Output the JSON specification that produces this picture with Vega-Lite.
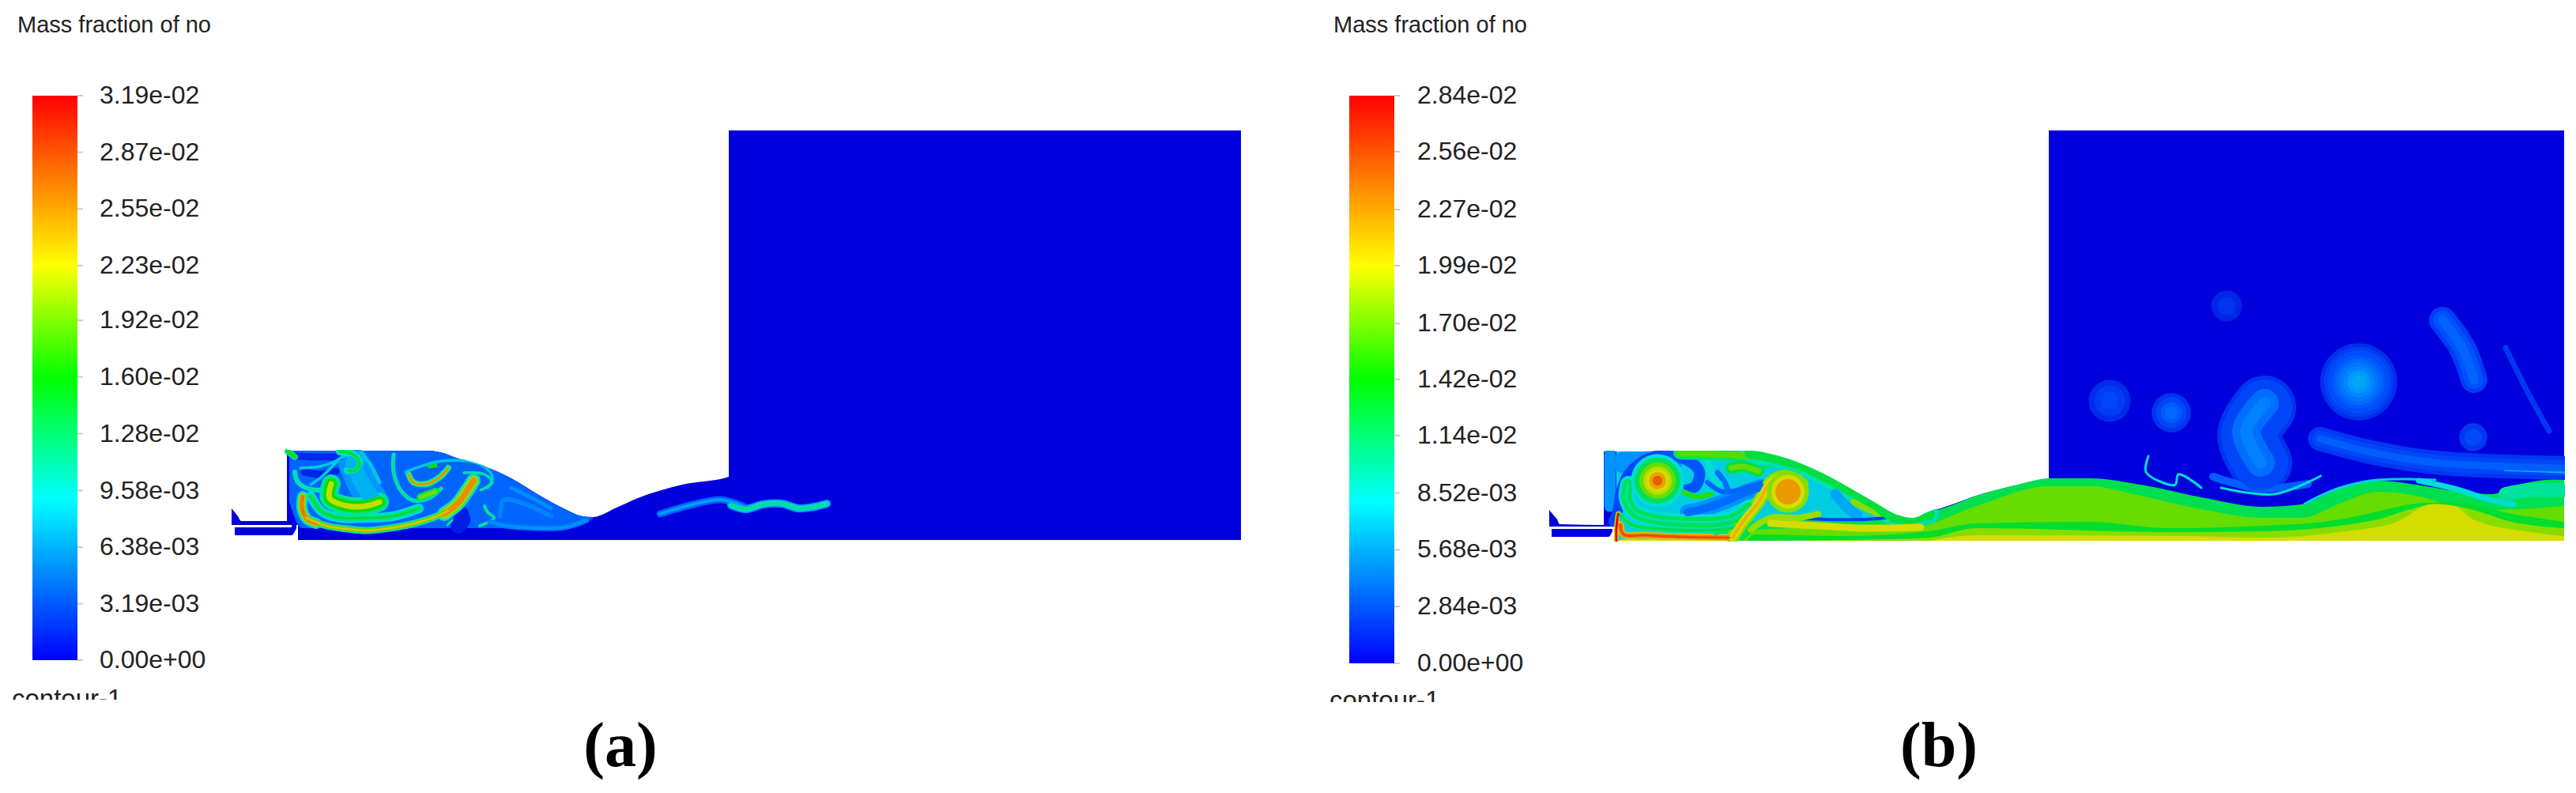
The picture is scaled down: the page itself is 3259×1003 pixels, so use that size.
{
"$schema":"https://vega.github.io/schema/vega-lite/v6.json",
"padding":0,"spacing":0,"bounds":"flush","background":"white",
"config":{"view":{"stroke":null},"line":{"strokeCap":"round","strokeJoin":"round"}},
"resolve":{"scale":{"color":"independent","x":"independent","y":"independent"}},
"datasets":{
"a_ticks":[{"v":0,"label":"0.00e+00"},{"v":0.00319,"label":"3.19e-03"},{"v":0.00638,"label":"6.38e-03"},{"v":0.00958,"label":"9.58e-03"},{"v":0.0128,"label":"1.28e-02"},{"v":0.016,"label":"1.60e-02"},{"v":0.0192,"label":"1.92e-02"},{"v":0.0223,"label":"2.23e-02"},{"v":0.0255,"label":"2.55e-02"},{"v":0.0287,"label":"2.87e-02"},{"v":0.0319,"label":"3.19e-02"}],
"b_ticks":[{"v":0,"label":"0.00e+00"},{"v":0.00284,"label":"2.84e-03"},{"v":0.00568,"label":"5.68e-03"},{"v":0.00852,"label":"8.52e-03"},{"v":0.0114,"label":"1.14e-02"},{"v":0.0142,"label":"1.42e-02"},{"v":0.017,"label":"1.70e-02"},{"v":0.0199,"label":"1.99e-02"},{"v":0.0227,"label":"2.27e-02"},{"v":0.0256,"label":"2.56e-02"},{"v":0.0284,"label":"2.84e-02"}],
"a_regions":[
{"s":"n1","x":293,"y":643,"b":664,"v":0},{"s":"n1","x":297,"y":648,"b":664,"v":0},{"s":"n1","x":301,"y":653,"b":664,"v":0},{"s":"n1","x":305,"y":659,"b":664,"v":0},{"s":"n1","x":365,"y":659,"b":664,"v":0},
{"s":"n2","x":297,"y":667,"b":677,"v":0},{"s":"n2","x":369,"y":667,"b":677,"v":0},{"s":"n2","x":369,"y":664,"b":677,"v":0},{"s":"n2","x":372,"y":664,"b":674,"v":0},{"s":"n2","x":375,"y":664,"b":668,"v":0},
{"s":"d","x":363,"y":570,"b":664,"v":0},{"s":"d","x":377,"y":570,"b":664,"v":0},{"s":"d","x":377,"y":570,"b":683,"v":0},{"s":"d","x":540,"y":570,"b":683,"v":0},{"s":"d","x":557,"y":572,"b":683,"v":0},{"s":"d","x":580,"y":580,"b":683,"v":0},{"s":"d","x":613,"y":590,"b":683,"v":0},{"s":"d","x":647,"y":605,"b":683,"v":0},{"s":"d","x":680,"y":625,"b":683,"v":0},{"s":"d","x":713,"y":643,"b":683,"v":0},{"s":"d","x":737,"y":653,"b":683,"v":0},{"s":"d","x":750,"y":654,"b":683,"v":0},{"s":"d","x":780,"y":642,"b":683,"v":0},{"s":"d","x":807,"y":630,"b":683,"v":0},{"s":"d","x":863,"y":613,"b":683,"v":0},{"s":"d","x":922,"y":603,"b":683,"v":0},{"s":"d","x":922,"y":165,"b":683,"v":0},{"s":"d","x":1570,"y":165,"b":683,"v":0},
{"s":"w","x":366,"y":570,"b":635,"v":0.0025},{"s":"w","x":382,"y":570,"b":668,"v":0.0025},{"s":"w","x":540,"y":570,"b":668,"v":0.0025},{"s":"w","x":557,"y":572,"b":668,"v":0.0025},{"s":"w","x":580,"y":580,"b":668,"v":0.0025},{"s":"w","x":613,"y":590,"b":668,"v":0.0025},{"s":"w","x":647,"y":605,"b":668,"v":0.0025},{"s":"w","x":680,"y":625,"b":668,"v":0.0025},{"s":"w","x":713,"y":643,"b":666,"v":0.0025},{"s":"w","x":737,"y":653,"b":662,"v":0.0025},{"s":"w","x":750,"y":654,"b":656,"v":0.0025}
],
"a_levels":[
{"s":"A0","v1":0.005,"w1":38,"v2":0.0065,"w2":20,"v3":0,"w3":0},{"s":"AD1","v1":0.0005,"w1":9,"v2":0,"w2":0,"v3":0,"w3":0},{"s":"AD2","v1":0.0004,"w1":9,"v2":0,"w2":0,"v3":0,"w3":0},{"s":"AD3","v1":0.0003,"w1":20,"v2":0,"w2":0,"v3":0,"w3":0},
{"s":"A3","v1":0.009,"w1":12,"v2":0.013,"w2":7,"v3":0.0155,"w3":3},{"s":"A1","v1":0.0105,"w1":9,"v2":0.017,"w2":6,"v3":0.024,"w3":2.5},{"s":"A1L","v1":0.0105,"w1":14,"v2":0.019,"w2":9,"v3":0.028,"w3":5},{"s":"A1R","v1":0.0105,"w1":18,"v2":0.019,"w2":13,"v3":0.027,"w3":7},{"s":"A2","v1":0.0125,"w1":24,"v2":0.016,"w2":15,"v3":0.021,"w3":7},{"s":"A4","v1":0.009,"w1":6,"v2":0.0125,"w2":3,"v3":0,"w3":0},{"s":"A5","v1":0.008,"w1":3.5,"v2":0,"w2":0,"v3":0,"w3":0},{"s":"A6","v1":0.008,"w1":3.5,"v2":0,"w2":0,"v3":0,"w3":0},{"s":"A7","v1":0.009,"w1":10,"v2":0.0125,"w2":6,"v3":0.016,"w3":2.5},{"s":"A8","v1":0.0075,"w1":5,"v2":0,"w2":0,"v3":0,"w3":0},{"s":"A9","v1":0.009,"w1":5,"v2":0.013,"w2":2.5,"v3":0,"w3":0},{"s":"A10","v1":0.015,"w1":10,"v2":0.018,"w2":5,"v3":0,"w3":0},{"s":"A11","v1":0.012,"w1":8,"v2":0.02,"w2":4,"v3":0.028,"w3":2},{"s":"A12","v1":0.016,"w1":5,"v2":0,"w2":0,"v3":0,"w3":0},{"s":"A13","v1":0.0075,"w1":3.5,"v2":0,"w2":0,"v3":0,"w3":0},{"s":"A14","v1":0.012,"w1":3.5,"v2":0,"w2":0,"v3":0,"w3":0},{"s":"A15","v1":0.012,"w1":4,"v2":0,"w2":0,"v3":0,"w3":0},{"s":"A15b","v1":0.012,"w1":3,"v2":0,"w2":0,"v3":0,"w3":0},{"s":"A16","v1":0.004,"w1":6,"v2":0,"w2":0,"v3":0,"w3":0},{"s":"A17","v1":0.0045,"w1":5,"v2":0,"w2":0,"v3":0,"w3":0},{"s":"A18","v1":0.0035,"w1":7,"v2":0.0048,"w2":3,"v3":0,"w3":0},{"s":"A19","v1":0.0125,"w1":8,"v2":0.016,"w2":4,"v3":0,"w3":0},{"s":"A20","v1":0.002,"w1":9,"v2":0.004,"w2":5,"v3":0.006,"w3":2},{"s":"A21","v1":0.0055,"w1":10,"v2":0.0095,"w2":6,"v3":0.0135,"w3":3}
],
"a_filaments":[
{"s":"A0","x":447,"y":585},{"s":"A0","x":455,"y":605},{"s":"A0","x":470,"y":630},
{"s":"AD1","x":375,"y":577},{"s":"AD1","x":400,"y":578},{"s":"AD1","x":430,"y":578},
{"s":"AD2","x":385,"y":597},{"s":"AD2","x":405,"y":600},{"s":"AD2","x":425,"y":596},
{"s":"AD3","x":583,"y":650},{"s":"AD3","x":585,"y":658},{"s":"AD3","x":580,"y":665},
{"s":"A3","x":393,"y":627},{"s":"A3","x":407,"y":647},{"s":"A3","x":430,"y":655},{"s":"A3","x":463,"y":655},{"s":"A3","x":497,"y":653},{"s":"A3","x":530,"y":643},
{"s":"A1L","x":383,"y":628},{"s":"A1L","x":382,"y":642},{"s":"A1L","x":388,"y":656},{"s":"A1L","x":400,"y":662},
{"s":"A1R","x":562,"y":650},{"s":"A1R","x":578,"y":638},{"s":"A1R","x":590,"y":622},{"s":"A1R","x":599,"y":608},
{"s":"A1","x":387,"y":655},{"s":"A1","x":413,"y":665},{"s":"A1","x":440,"y":669},{"s":"A1","x":463,"y":671},{"s":"A1","x":493,"y":668},{"s":"A1","x":520,"y":663},{"s":"A1","x":547,"y":655},{"s":"A1","x":567,"y":646},
{"s":"A2","x":419,"y":612},{"s":"A2","x":417,"y":630},{"s":"A2","x":440,"y":640},{"s":"A2","x":463,"y":640},{"s":"A2","x":480,"y":635},
{"s":"A4","x":373,"y":597},{"s":"A4","x":377,"y":610},{"s":"A4","x":390,"y":618},{"s":"A4","x":405,"y":620},
{"s":"A5","x":380,"y":592},{"s":"A5","x":405,"y":590},{"s":"A5","x":425,"y":583},{"s":"A5","x":437,"y":575},
{"s":"A6","x":427,"y":583},{"s":"A6","x":407,"y":603},{"s":"A6","x":393,"y":613},
{"s":"A7","x":430,"y":571},{"s":"A7","x":447,"y":575},{"s":"A7","x":455,"y":585},{"s":"A7","x":450,"y":595},{"s":"A7","x":440,"y":595},
{"s":"A8","x":457,"y":572},{"s":"A8","x":470,"y":590},{"s":"A8","x":480,"y":610},
{"s":"A9","x":498,"y":575},{"s":"A9","x":498,"y":597},{"s":"A9","x":507,"y":620},{"s":"A9","x":523,"y":633},{"s":"A9","x":543,"y":630},{"s":"A9","x":558,"y":618},
{"s":"A10","x":532,"y":629},{"s":"A10","x":540,"y":626},{"s":"A10","x":551,"y":622},
{"s":"A11","x":517,"y":600},{"s":"A11","x":523,"y":610},{"s":"A11","x":540,"y":612},{"s":"A11","x":557,"y":603},{"s":"A11","x":567,"y":592},
{"s":"A12","x":543,"y":590},{"s":"A12","x":551,"y":589},
{"s":"A13","x":513,"y":597},{"s":"A13","x":560,"y":583},{"s":"A13","x":607,"y":587},{"s":"A13","x":623,"y":603},{"s":"A13","x":617,"y":617},
{"s":"A14","x":587,"y":598},{"s":"A14","x":613,"y":600},{"s":"A14","x":623,"y":610},{"s":"A14","x":608,"y":620},
{"s":"A15","x":613,"y":640},{"s":"A15","x":617,"y":648},{"s":"A15","x":625,"y":655},{"s":"A15","x":607,"y":665},
{"s":"A15b","x":566,"y":664},{"s":"A15b","x":572,"y":658},
{"s":"A16","x":633,"y":653},{"s":"A16","x":637,"y":633},{"s":"A16","x":663,"y":637},{"s":"A16","x":697,"y":653},
{"s":"A17","x":647,"y":617},{"s":"A17","x":673,"y":630},{"s":"A17","x":697,"y":643},
{"s":"A18","x":620,"y":660},{"s":"A18","x":640,"y":665},{"s":"A18","x":713,"y":667},{"s":"A18","x":742,"y":658},
{"s":"A19","x":364,"y":571},{"s":"A19","x":368,"y":574},{"s":"A19","x":373,"y":578},
{"s":"A20","x":835,"y":650},{"s":"A20","x":877,"y":638},{"s":"A20","x":912,"y":632},{"s":"A20","x":940,"y":640},
{"s":"A21","x":925,"y":639},{"s":"A21","x":943,"y":644},{"s":"A21","x":965,"y":638},{"s":"A21","x":989,"y":637},{"s":"A21","x":1010,"y":643},{"s":"A21","x":1030,"y":641},{"s":"A21","x":1046,"y":637}
],
"a_masks":[
{"s":"roof","x":363,"y":569,"b":160},{"s":"roof","x":540,"y":569,"b":160},{"s":"roof","x":557,"y":571,"b":160},{"s":"roof","x":580,"y":579,"b":160},{"s":"roof","x":613,"y":589,"b":160},{"s":"roof","x":647,"y":604,"b":160},{"s":"roof","x":680,"y":624,"b":160},{"s":"roof","x":713,"y":642,"b":160},{"s":"roof","x":737,"y":652,"b":160},{"s":"roof","x":750,"y":653,"b":160},{"s":"roof","x":780,"y":641,"b":160},{"s":"roof","x":807,"y":629,"b":160},{"s":"roof","x":863,"y":612,"b":160},{"s":"roof","x":922,"y":602,"b":160},
{"s":"floor","x":377,"y":684,"b":700},{"s":"floor","x":1570,"y":684,"b":700}
],
"b_regions":[
{"s":"n1","x":1960,"y":645,"b":666,"v":0},{"s":"n1","x":1965,"y":651,"b":666,"v":0},{"s":"n1","x":1970,"y":657,"b":666,"v":0},{"s":"n1","x":1973,"y":663,"b":666,"v":0},{"s":"n1","x":2035,"y":664,"b":666,"v":0},
{"s":"n2","x":1963,"y":669,"b":679,"v":0},{"s":"n2","x":2035,"y":669,"b":679,"v":0},{"s":"n2","x":2040,"y":669,"b":672,"v":0},
{"s":"d","x":2029,"y":571,"b":666,"v":0},{"s":"d","x":2043,"y":571,"b":666,"v":0},{"s":"d","x":2043,"y":571,"b":684,"v":0},{"s":"d","x":2217,"y":571,"b":684,"v":0},{"s":"d","x":2240,"y":575,"b":684,"v":0},{"s":"d","x":2273,"y":585,"b":684,"v":0},{"s":"d","x":2307,"y":600,"b":684,"v":0},{"s":"d","x":2340,"y":618,"b":684,"v":0},{"s":"d","x":2373,"y":637,"b":684,"v":0},{"s":"d","x":2400,"y":652,"b":684,"v":0},{"s":"d","x":2420,"y":656,"b":684,"v":0},{"s":"d","x":2440,"y":648,"b":684,"v":0},{"s":"d","x":2470,"y":638,"b":684,"v":0},{"s":"d","x":2500,"y":627,"b":684,"v":0},{"s":"d","x":2545,"y":615,"b":684,"v":0},{"s":"d","x":2592,"y":605,"b":684,"v":0},{"s":"d","x":2592,"y":165,"b":684,"v":0},{"s":"d","x":3244,"y":165,"b":684,"v":0},
{"s":"c","x":2045,"y":571,"b":684,"v":0.0072},{"s":"c","x":2217,"y":571,"b":684,"v":0.0072},{"s":"c","x":2240,"y":575,"b":684,"v":0.0072},{"s":"c","x":2273,"y":585,"b":684,"v":0.0072},{"s":"c","x":2307,"y":600,"b":684,"v":0.0072},{"s":"c","x":2340,"y":618,"b":684,"v":0.0072},{"s":"c","x":2373,"y":637,"b":684,"v":0.0072},{"s":"c","x":2400,"y":652,"b":684,"v":0.0072},{"s":"c","x":2420,"y":656,"b":684,"v":0.0072},{"s":"c","x":2440,"y":648,"b":684,"v":0.0072},
{"s":"SA","x":2190,"y":684,"b":684,"v":0.0132},{"s":"SA","x":2210,"y":660,"b":684,"v":0.0132},{"s":"SA","x":2280,"y":655,"b":684,"v":0.0132},{"s":"SA","x":2340,"y":658,"b":684,"v":0.0132},{"s":"SA","x":2400,"y":656,"b":684,"v":0.0132},{"s":"SA","x":2420,"y":657,"b":684,"v":0.0132},{"s":"SA","x":2440,"y":649,"b":684,"v":0.0132},{"s":"SA","x":2470,"y":639,"b":684,"v":0.0132},{"s":"SA","x":2500,"y":627,"b":684,"v":0.0132},{"s":"SA","x":2545,"y":615,"b":684,"v":0.0132},{"s":"SA","x":2592,"y":605,"b":684,"v":0.0132},{"s":"SA","x":2645,"y":605,"b":684,"v":0.0132},{"s":"SA","x":2708,"y":613,"b":684,"v":0.0132},{"s":"SA","x":2790,"y":630,"b":684,"v":0.0132},{"s":"SA","x":2863,"y":641,"b":684,"v":0.0132},{"s":"SA","x":2911,"y":638,"b":684,"v":0.0132},{"s":"SA","x":2960,"y":618,"b":684,"v":0.0132},{"s":"SA","x":3008,"y":608,"b":684,"v":0.0132},{"s":"SA","x":3057,"y":613,"b":684,"v":0.0132},{"s":"SA","x":3105,"y":621,"b":684,"v":0.0132},{"s":"SA","x":3153,"y":625,"b":684,"v":0.0132},{"s":"SA","x":3187,"y":613,"b":684,"v":0.0132},{"s":"SA","x":3244,"y":605,"b":684,"v":0.0132},
{"s":"SB","x":2205,"y":684,"b":684,"v":0.0155},{"s":"SB","x":2225,"y":670,"b":684,"v":0.0155},{"s":"SB","x":2280,"y":668,"b":684,"v":0.0155},{"s":"SB","x":2340,"y":672,"b":684,"v":0.0155},{"s":"SB","x":2420,"y":668,"b":684,"v":0.0155},{"s":"SB","x":2500,"y":640,"b":684,"v":0.0155},{"s":"SB","x":2592,"y":615,"b":684,"v":0.0155},{"s":"SB","x":2645,"y":615,"b":684,"v":0.0155},{"s":"SB","x":2708,"y":627,"b":684,"v":0.0155},{"s":"SB","x":2790,"y":645,"b":684,"v":0.0155},{"s":"SB","x":2863,"y":655,"b":684,"v":0.0155},{"s":"SB","x":2911,"y":655,"b":684,"v":0.0155},{"s":"SB","x":2960,"y":637,"b":684,"v":0.0155},{"s":"SB","x":3008,"y":622,"b":684,"v":0.0155},{"s":"SB","x":3057,"y":627,"b":684,"v":0.0155},{"s":"SB","x":3105,"y":640,"b":684,"v":0.0155},{"s":"SB","x":3153,"y":645,"b":684,"v":0.0155},{"s":"SB","x":3244,"y":640,"b":684,"v":0.0155},
{"s":"SC","x":2210,"y":684,"b":684,"v":0.0138},{"s":"SC","x":2220,"y":676,"b":684,"v":0.0138},{"s":"SC","x":2330,"y":678,"b":684,"v":0.0138},{"s":"SC","x":2440,"y":672,"b":684,"v":0.0138},{"s":"SC","x":2500,"y":662,"b":684,"v":0.0138},{"s":"SC","x":2645,"y":660,"b":684,"v":0.0138},{"s":"SC","x":2742,"y":668,"b":684,"v":0.0138},{"s":"SC","x":2863,"y":665,"b":684,"v":0.0138},{"s":"SC","x":2960,"y":657,"b":684,"v":0.0138},{"s":"SC","x":3008,"y":647,"b":684,"v":0.0138},{"s":"SC","x":3057,"y":637,"b":684,"v":0.0138},{"s":"SC","x":3105,"y":635,"b":684,"v":0.0138},{"s":"SC","x":3178,"y":650,"b":684,"v":0.0138},{"s":"SC","x":3244,"y":660,"b":684,"v":0.0138},
{"s":"SD","x":2230,"y":684,"b":684,"v":0.0165},{"s":"SD","x":2330,"y":683,"b":684,"v":0.0165},{"s":"SD","x":2440,"y":680,"b":684,"v":0.0165},{"s":"SD","x":2500,"y":668,"b":684,"v":0.0165},{"s":"SD","x":2742,"y":673,"b":684,"v":0.0165},{"s":"SD","x":2863,"y":672,"b":684,"v":0.0165},{"s":"SD","x":2960,"y":665,"b":684,"v":0.0165},{"s":"SD","x":3008,"y":657,"b":684,"v":0.0165},{"s":"SD","x":3057,"y":642,"b":684,"v":0.0165},{"s":"SD","x":3081,"y":637,"b":684,"v":0.0165},{"s":"SD","x":3129,"y":645,"b":684,"v":0.0165},{"s":"SD","x":3178,"y":660,"b":684,"v":0.0165},{"s":"SD","x":3244,"y":668,"b":684,"v":0.0165},
{"s":"SE","x":2440,"y":684,"b":684,"v":0.0195},{"s":"SE","x":2500,"y":677,"b":684,"v":0.0195},{"s":"SE","x":2766,"y":678,"b":684,"v":0.0195},{"s":"SE","x":2863,"y":680,"b":684,"v":0.0195},{"s":"SE","x":2960,"y":673,"b":684,"v":0.0195},{"s":"SE","x":3032,"y":660,"b":684,"v":0.0195},{"s":"SE","x":3076,"y":638,"b":684,"v":0.0195},{"s":"SE","x":3105,"y":640,"b":684,"v":0.0195},{"s":"SE","x":3129,"y":657,"b":684,"v":0.0195},{"s":"SE","x":3202,"y":673,"b":684,"v":0.0195},{"s":"SE","x":3244,"y":678,"b":684,"v":0.0195}
],
"b_levels":[
{"s":"B1","v1":0.0042,"w1":28,"v2":0,"w2":0,"v3":0,"w3":0},{"s":"B2","v1":0.0042,"w1":15,"v2":0,"w2":0,"v3":0,"w3":0},{"s":"B3","v1":0.0012,"w1":13,"v2":0,"w2":0,"v3":0,"w3":0},{"s":"B4","v1":0.0016,"w1":14,"v2":0,"w2":0,"v3":0,"w3":0},{"s":"B5","v1":0.0042,"w1":20,"v2":0.0025,"w2":10,"v3":0,"w3":0},{"s":"B6","v1":0.0022,"w1":6,"v2":0,"w2":0,"v3":0,"w3":0},{"s":"B7","v1":0.0025,"w1":7,"v2":0,"w2":0,"v3":0,"w3":0},{"s":"B8","v1":0.0085,"w1":8,"v2":0,"w2":0,"v3":0,"w3":0},{"s":"B9","v1":0.0125,"w1":16,"v2":0.015,"w2":8,"v3":0,"w3":0},{"s":"B10","v1":0.0135,"w1":14,"v2":0.0155,"w2":7,"v3":0,"w3":0},{"s":"B11","v1":0.0125,"w1":4,"v2":0,"w2":0,"v3":0,"w3":0},{"s":"B12","v1":0.0105,"w1":26,"v2":0.0135,"w2":16,"v3":0,"w3":0},{"s":"B13","v1":0.0165,"w1":8,"v2":0,"w2":0,"v3":0,"w3":0},{"s":"B14","v1":0.0052,"w1":13,"v2":0,"w2":0,"v3":0,"w3":0},{"s":"B15","v1":0.001,"w1":4,"v2":0,"w2":0,"v3":0,"w3":0},{"s":"B16","v1":0.0085,"w1":20,"v2":0.013,"w2":13,"v3":0.0105,"w3":3},{"s":"B17","v1":0.0105,"w1":7,"v2":0.0135,"w2":3.5,"v3":0,"w3":0},{"s":"B18","v1":0.0125,"w1":8,"v2":0.0145,"w2":4,"v3":0,"w3":0},{"s":"B20","v1":0.021,"w1":9,"v2":0.0245,"w2":6,"v3":0.027,"w3":2.5},{"s":"B21","v1":0.02,"w1":6,"v2":0.0284,"w2":3,"v3":0,"w3":0},{"s":"B22","v1":0.019,"w1":2,"v2":0,"w2":0,"v3":0,"w3":0},{"s":"B23","v1":0.0125,"w1":4,"v2":0,"w2":0,"v3":0,"w3":0},{"s":"B24","v1":0.0165,"w1":16,"v2":0.0195,"w2":10,"v3":0.022,"w3":4},{"s":"B25","v1":0.017,"w1":8,"v2":0,"w2":0,"v3":0,"w3":0},{"s":"B26","v1":0.0195,"w1":9,"v2":0,"w2":0,"v3":0,"w3":0},
{"s":"W0","v1":0.0007,"w1":80,"v2":0.0012,"w2":70,"v3":0,"w3":0},{"s":"W1","v1":0.0018,"w1":58,"v2":0.0026,"w2":36,"v3":0.0034,"w3":16},{"s":"W2a","v1":0.0009,"w1":34,"v2":0.0015,"w2":24,"v3":0.0022,"w3":12},{"s":"W3","v1":0.0008,"w1":7,"v2":0,"w2":0,"v3":0,"w3":0},{"s":"W4","v1":0.0008,"w1":30,"v2":0.0012,"w2":20,"v3":0.002,"w3":9},{"s":"W5","v1":0.0045,"w1":12,"v2":0.0058,"w2":6,"v3":0,"w3":0},{"s":"W6","v1":0.002,"w1":10,"v2":0,"w2":0,"v3":0,"w3":0},{"s":"W7","v1":0.0085,"w1":3,"v2":0,"w2":0,"v3":0,"w3":0},{"s":"W8","v1":0.0075,"w1":3,"v2":0,"w2":0,"v3":0,"w3":0},{"s":"W9","v1":0.0085,"w1":3,"v2":0,"w2":0,"v3":0,"w3":0},{"s":"W10","v1":0.0085,"w1":7,"v2":0,"w2":0,"v3":0,"w3":0},{"s":"W11","v1":0.0112,"w1":18,"v2":0,"w2":0,"v3":0,"w3":0}
],
"b_filaments":[
{"s":"B1","x":2055,"y":585},{"s":"B1","x":2080,"y":585},{"s":"B1","x":2115,"y":583},
{"s":"B2","x":2037,"y":575},{"s":"B2","x":2037,"y":615},{"s":"B2","x":2037,"y":640},
{"s":"B3","x":2115,"y":574},{"s":"B3","x":2085,"y":580},{"s":"B3","x":2060,"y":600},{"s":"B3","x":2050,"y":625},{"s":"B3","x":2047,"y":645},{"s":"B3","x":2041,"y":660},
{"s":"B4","x":2108,"y":576},{"s":"B4","x":2135,"y":582},{"s":"B4","x":2150,"y":597},{"s":"B4","x":2145,"y":615},{"s":"B4","x":2132,"y":620},
{"s":"B5","x":2135,"y":648},{"s":"B5","x":2150,"y":645},{"s":"B5","x":2180,"y":635},{"s":"B5","x":2210,"y":622},{"s":"B5","x":2228,"y":616},
{"s":"B6","x":2160,"y":610},{"s":"B6","x":2180,"y":622},{"s":"B6","x":2215,"y":615},{"s":"B6","x":2250,"y":605},
{"s":"B7","x":2173,"y":598},{"s":"B7","x":2182,"y":610},{"s":"B7","x":2186,"y":620},
{"s":"B8","x":2160,"y":578},{"s":"B8","x":2165,"y":600},{"s":"B8","x":2175,"y":612},
{"s":"B9","x":2125,"y":573},{"s":"B9","x":2160,"y":574},{"s":"B9","x":2200,"y":576},{"s":"B9","x":2225,"y":578},
{"s":"B10","x":2190,"y":592},{"s":"B10","x":2205,"y":590},{"s":"B10","x":2225,"y":596},
{"s":"B11","x":2200,"y":598},{"s":"B11","x":2240,"y":590},{"s":"B11","x":2280,"y":590},{"s":"B11","x":2310,"y":610},{"s":"B11","x":2330,"y":625},
{"s":"B12","x":2215,"y":572},{"s":"B12","x":2273,"y":585},{"s":"B12","x":2307,"y":600},{"s":"B12","x":2340,"y":618},{"s":"B12","x":2373,"y":637},{"s":"B12","x":2400,"y":654},{"s":"B12","x":2440,"y":650},
{"s":"B13","x":2345,"y":635},{"s":"B13","x":2365,"y":645},{"s":"B13","x":2390,"y":655},
{"s":"B14","x":2322,"y":625},{"s":"B14","x":2335,"y":640},{"s":"B14","x":2350,"y":652},
{"s":"B15","x":2265,"y":655},{"s":"B15","x":2310,"y":657},{"s":"B15","x":2360,"y":657},{"s":"B15","x":2395,"y":654},
{"s":"B16","x":2060,"y":612},{"s":"B16","x":2058,"y":630},{"s":"B16","x":2068,"y":648},{"s":"B16","x":2095,"y":657},{"s":"B16","x":2130,"y":660},{"s":"B16","x":2170,"y":660},{"s":"B16","x":2195,"y":655},{"s":"B16","x":2212,"y":642},
{"s":"B17","x":2048,"y":650},{"s":"B17","x":2065,"y":664},{"s":"B17","x":2100,"y":669},{"s":"B17","x":2150,"y":671},{"s":"B17","x":2190,"y":668},{"s":"B17","x":2205,"y":660},
{"s":"B18","x":2125,"y":620},{"s":"B18","x":2145,"y":628},{"s":"B18","x":2165,"y":625},
{"s":"B20","x":2050,"y":664},{"s":"B20","x":2054,"y":676},{"s":"B20","x":2080,"y":677},{"s":"B20","x":2130,"y":679},{"s":"B20","x":2188,"y":680},
{"s":"B21","x":2047,"y":650},{"s":"B21","x":2045,"y":668},{"s":"B21","x":2045,"y":684},
{"s":"B22","x":2050,"y":683},{"s":"B22","x":2190,"y":683},
{"s":"B23","x":2170,"y":676},{"s":"B23","x":2182,"y":672},{"s":"B23","x":2192,"y":680},
{"s":"B24","x":2192,"y":680},{"s":"B24","x":2205,"y":660},{"s":"B24","x":2225,"y":635},{"s":"B24","x":2240,"y":610},{"s":"B24","x":2258,"y":602},{"s":"B24","x":2280,"y":612},
{"s":"B25","x":2215,"y":670},{"s":"B25","x":2240,"y":655},{"s":"B25","x":2275,"y":655},{"s":"B25","x":2300,"y":650},
{"s":"B26","x":2240,"y":662},{"s":"B26","x":2300,"y":665},{"s":"B26","x":2360,"y":668},{"s":"B26","x":2430,"y":667},
{"s":"W0","x":2865,"y":515},{"s":"W0","x":2845,"y":550},{"s":"W0","x":2860,"y":585},
{"s":"W1","x":2865,"y":510},{"s":"W1","x":2842,"y":545},{"s":"W1","x":2860,"y":585},
{"s":"W2a","x":3090,"y":405},{"s":"W2a","x":3115,"y":440},{"s":"W2a","x":3130,"y":480},
{"s":"W3","x":3170,"y":440},{"s":"W3","x":3200,"y":500},{"s":"W3","x":3225,"y":545},
{"s":"W4","x":2935,"y":555},{"s":"W4","x":3000,"y":572},{"s":"W4","x":3080,"y":585},{"s":"W4","x":3244,"y":592},
{"s":"W5","x":3170,"y":593},{"s":"W5","x":3200,"y":594},{"s":"W5","x":3250,"y":596},
{"s":"W6","x":2800,"y":603},{"s":"W6","x":2860,"y":618},{"s":"W6","x":2920,"y":612},
{"s":"W7","x":2810,"y":617},{"s":"W7","x":2877,"y":625},{"s":"W7","x":2936,"y":602},
{"s":"W8","x":2916,"y":637},{"s":"W8","x":2960,"y":617},{"s":"W8","x":3008,"y":607},{"s":"W8","x":3081,"y":607},
{"s":"W9","x":2718,"y":577},{"s":"W9","x":2715,"y":597},{"s":"W9","x":2735,"y":610},{"s":"W9","x":2752,"y":613},{"s":"W9","x":2756,"y":600},{"s":"W9","x":2785,"y":617},
{"s":"W10","x":3060,"y":608},{"s":"W10","x":3105,"y":618},{"s":"W10","x":3150,"y":632},{"s":"W10","x":3180,"y":638},
{"s":"W11","x":3170,"y":625},{"s":"W11","x":3200,"y":620},{"s":"W11","x":3244,"y":620}
],
"b_cores":[
{"x":2097,"y":608,"d":4536,"v":0.0085},{"x":2097,"y":608,"d":3421,"v":0.013},{"x":2097,"y":608,"d":2124,"v":0.0155},{"x":2097,"y":608,"d":1300,"v":0.018},{"x":2097,"y":608,"d":908,"v":0.0195},{"x":2097,"y":608,"d":452,"v":0.023},{"x":2097,"y":608,"d":154,"v":0.0262},
{"x":2262,"y":622,"d":2827,"v":0.0165},{"x":2262,"y":622,"d":1810,"v":0.0195},{"x":2262,"y":622,"d":1018,"v":0.0235},
{"x":2984,"y":483,"d":9503,"v":0.0006},{"x":2984,"y":483,"d":7850,"v":0.001},{"x":2984,"y":483,"d":6360,"v":0.0014},{"x":2984,"y":483,"d":4536,"v":0.0018},{"x":2984,"y":483,"d":3421,"v":0.0024},{"x":2984,"y":483,"d":2463,"v":0.003},{"x":2984,"y":483,"d":1520,"v":0.0037},{"x":2984,"y":483,"d":804,"v":0.0045},{"x":2984,"y":483,"d":314,"v":0.0052},
{"x":2747,"y":522,"d":2463,"v":0.0007},{"x":2747,"y":522,"d":1520,"v":0.0012},{"x":2747,"y":522,"d":707,"v":0.0018},{"x":2747,"y":522,"d":254,"v":0.0024},
{"x":2669,"y":507,"d":2827,"v":0.0005},{"x":2669,"y":507,"d":1520,"v":0.0009},{"x":2669,"y":507,"d":531,"v":0.0012},
{"x":2817,"y":387,"d":1521,"v":0.0004},{"x":2817,"y":387,"d":531,"v":0.0007},
{"x":3129,"y":553,"d":1257,"v":0.0008},{"x":3129,"y":553,"d":452,"v":0.0013}
],
"b_masks":[
{"s":"roof","x":2029,"y":570,"b":160},{"s":"roof","x":2217,"y":570,"b":160},{"s":"roof","x":2240,"y":574,"b":160},{"s":"roof","x":2273,"y":584,"b":160},{"s":"roof","x":2307,"y":599,"b":160},{"s":"roof","x":2340,"y":617,"b":160},{"s":"roof","x":2373,"y":636,"b":160},{"s":"roof","x":2400,"y":651,"b":160},{"s":"roof","x":2420,"y":655,"b":160},{"s":"roof","x":2440,"y":647,"b":160},{"s":"roof","x":2470,"y":637,"b":160},{"s":"roof","x":2500,"y":626,"b":160},{"s":"roof","x":2545,"y":614,"b":160},{"s":"roof","x":2592,"y":604,"b":160},
{"s":"floor","x":2043,"y":685,"b":700},{"s":"floor","x":3259,"y":685,"b":700},
{"s":"right","x":3245,"y":160,"b":700},{"s":"right","x":3259,"y":160,"b":700}
]
},
"hconcat":[
{"width":1630,"height":1003,"resolve":{"scale":{"y":"independent"}},"layer":[
{"encoding":{"x":{"field":"x","type":"quantitative","axis":null,"scale":{"domain":[0,1630],"nice":false,"zero":false}},"y":{"field":"y","type":"quantitative","axis":null,"stack":null,"scale":{"domain":[1003,0],"nice":false,"zero":false}}},
"layer":[
{"data":{"name":"a_regions"},"mark":{"type":"area","opacity":1,"interpolate":"monotone"},"encoding":{"y2":{"field":"b"},"detail":{"field":"s"},"order":{"value":null},"color":{"field":"v","type":"quantitative","legend":null,"scale":{"domain":[0,0.00909,0.01595,0.02233,0.0319],"range":["#0000dc","#00dcdc","#00dc00","#dcdc00","#e60000"]}}}},
{"data":{"name":"a_filaments"},"transform":[{"lookup":"s","from":{"data":{"name":"a_levels"},"key":"s","fields":["v1","w1","v2","w2","v3","w3"]}}],"mark":{"type":"line","interpolate":"catmull-rom","strokeCap":"round"},"encoding":{"strokeWidth":{"field":"w1","type":"quantitative","scale":null},"detail":{"field":"s"},"order":{"value":null},"color":{"field":"v1","type":"quantitative","legend":null,"scale":{"domain":[0,0.00909,0.01595,0.02233,0.0319],"range":["#0000dc","#00dcdc","#00dc00","#dcdc00","#e60000"]}}}},
{"data":{"name":"a_filaments"},"transform":[{"lookup":"s","from":{"data":{"name":"a_levels"},"key":"s","fields":["v1","w1","v2","w2","v3","w3"]}}],"mark":{"type":"line","interpolate":"catmull-rom","strokeCap":"round"},"encoding":{"strokeWidth":{"field":"w2","type":"quantitative","scale":null},"detail":{"field":"s"},"order":{"value":null},"color":{"field":"v2","type":"quantitative","legend":null,"scale":{"domain":[0,0.00909,0.01595,0.02233,0.0319],"range":["#0000dc","#00dcdc","#00dc00","#dcdc00","#e60000"]}}}},
{"data":{"name":"a_filaments"},"transform":[{"lookup":"s","from":{"data":{"name":"a_levels"},"key":"s","fields":["v1","w1","v2","w2","v3","w3"]}}],"mark":{"type":"line","interpolate":"catmull-rom","strokeCap":"round"},"encoding":{"strokeWidth":{"field":"w3","type":"quantitative","scale":null},"detail":{"field":"s"},"order":{"value":null},"color":{"field":"v3","type":"quantitative","legend":null,"scale":{"domain":[0,0.00909,0.01595,0.02233,0.0319],"range":["#0000dc","#00dcdc","#00dc00","#dcdc00","#e60000"]}}}},
{"data":{"name":"a_masks"},"mark":{"type":"area","color":"white","opacity":1,"interpolate":"monotone"},"encoding":{"y2":{"field":"b"},"detail":{"field":"s"},"order":{"value":null}}},
{"data":{"values":[{"t":"Mass fraction of no","x":22,"y":32}]},"mark":{"type":"text","font":"Liberation Sans","fontSize":29,"align":"left","baseline":"middle","color":"#222222"},"encoding":{"text":{"field":"t"}}},
{"data":{"values":[{"t":"contour-1","x":15,"y":895}]},"mark":{"type":"text","font":"Liberation Sans","fontSize":33,"align":"left","baseline":"alphabetic","color":"#222222"},"encoding":{"text":{"field":"t"}}},
{"data":{"values":[{"x":0,"x2":300,"y":885,"b":910}]},"mark":{"type":"rect","color":"white"},"encoding":{"x2":{"field":"x2"},"y2":{"field":"b"}}},
{"data":{"values":[{"t":"(a)","x":785,"y":969}]},"mark":{"type":"text","font":"Liberation Serif","fontWeight":"bold","fontSize":80,"align":"center","baseline":"alphabetic","color":"#000000"},"encoding":{"text":{"field":"t"}}}
]},
{"encoding":{"y":{"field":"v","type":"quantitative","axis":null,"scale":{"domain":[0,0.0319],"range":[835,121],"nice":false,"zero":false}}},
"layer":[
{"data":{"values":[{"lo":0,"hi":0.0319}]},"mark":{"type":"rect","color":{"gradient":"linear","x1":0,"y1":1,"x2":0,"y2":0,"stops":[{"offset":0,"color":"#0000ff"},{"offset":0.285,"color":"#00ffff"},{"offset":0.5,"color":"#00ff00"},{"offset":0.7,"color":"#ffff00"},{"offset":1,"color":"#ff0000"}]}},"encoding":{"x":{"value":41},"x2":{"value":98},"y":{"field":"lo","type":"quantitative","axis":null,"scale":{"domain":[0,0.0319],"range":[835,121],"nice":false,"zero":false}},"y2":{"field":"hi"}}},
{"data":{"name":"a_ticks"},"mark":{"type":"rule","color":"#cccccc","strokeWidth":2},"encoding":{"x":{"value":98},"x2":{"value":105}}},
{"data":{"name":"a_ticks"},"mark":{"type":"text","font":"Liberation Sans","fontSize":32,"align":"left","baseline":"middle","color":"#222222"},"encoding":{"x":{"value":126},"text":{"field":"label"}}}
]}
]},
{"width":1629,"height":1003,"resolve":{"scale":{"y":"independent"}},"layer":[
{"encoding":{"x":{"field":"x","type":"quantitative","axis":null,"scale":{"domain":[1630,3259],"nice":false,"zero":false}},"y":{"field":"y","type":"quantitative","axis":null,"stack":null,"scale":{"domain":[1003,0],"nice":false,"zero":false}}},
"layer":[
{"data":{"name":"b_regions"},"mark":{"type":"area","opacity":1,"interpolate":"monotone"},"encoding":{"y2":{"field":"b"},"detail":{"field":"s"},"order":{"value":null},"color":{"field":"v","type":"quantitative","legend":null,"scale":{"domain":[0,0.00809,0.0142,0.01988,0.0284],"range":["#0000dc","#00dcdc","#00dc00","#dcdc00","#e60000"]}}}},
{"data":{"name":"b_filaments"},"transform":[{"lookup":"s","from":{"data":{"name":"b_levels"},"key":"s","fields":["v1","w1","v2","w2","v3","w3"]}}],"mark":{"type":"line","interpolate":"catmull-rom","strokeCap":"round"},"encoding":{"strokeWidth":{"field":"w1","type":"quantitative","scale":null},"detail":{"field":"s"},"order":{"value":null},"color":{"field":"v1","type":"quantitative","legend":null,"scale":{"domain":[0,0.00809,0.0142,0.01988,0.0284],"range":["#0000dc","#00dcdc","#00dc00","#dcdc00","#e60000"]}}}},
{"data":{"name":"b_filaments"},"transform":[{"lookup":"s","from":{"data":{"name":"b_levels"},"key":"s","fields":["v1","w1","v2","w2","v3","w3"]}}],"mark":{"type":"line","interpolate":"catmull-rom","strokeCap":"round"},"encoding":{"strokeWidth":{"field":"w2","type":"quantitative","scale":null},"detail":{"field":"s"},"order":{"value":null},"color":{"field":"v2","type":"quantitative","legend":null,"scale":{"domain":[0,0.00809,0.0142,0.01988,0.0284],"range":["#0000dc","#00dcdc","#00dc00","#dcdc00","#e60000"]}}}},
{"data":{"name":"b_filaments"},"transform":[{"lookup":"s","from":{"data":{"name":"b_levels"},"key":"s","fields":["v1","w1","v2","w2","v3","w3"]}}],"mark":{"type":"line","interpolate":"catmull-rom","strokeCap":"round"},"encoding":{"strokeWidth":{"field":"w3","type":"quantitative","scale":null},"detail":{"field":"s"},"order":{"value":null},"color":{"field":"v3","type":"quantitative","legend":null,"scale":{"domain":[0,0.00809,0.0142,0.01988,0.0284],"range":["#0000dc","#00dcdc","#00dc00","#dcdc00","#e60000"]}}}},
{"data":{"name":"b_cores"},"mark":{"type":"circle","opacity":1},"encoding":{"size":{"field":"d","type":"quantitative","scale":null},"color":{"field":"v","type":"quantitative","legend":null,"scale":{"domain":[0,0.00809,0.0142,0.01988,0.0284],"range":["#0000dc","#00dcdc","#00dc00","#dcdc00","#e60000"]}}}},
{"data":{"name":"b_masks"},"mark":{"type":"area","color":"white","opacity":1,"interpolate":"monotone"},"encoding":{"y2":{"field":"b"},"detail":{"field":"s"},"order":{"value":null}}},
{"data":{"values":[{"t":"Mass fraction of no","x":1687,"y":32}]},"mark":{"type":"text","font":"Liberation Sans","fontSize":29,"align":"left","baseline":"middle","color":"#222222"},"encoding":{"text":{"field":"t"}}},
{"data":{"values":[{"t":"contour-1","x":1682,"y":897}]},"mark":{"type":"text","font":"Liberation Sans","fontSize":33,"align":"left","baseline":"alphabetic","color":"#222222"},"encoding":{"text":{"field":"t"}}},
{"data":{"values":[{"x":1640,"x2":1900,"y":888,"b":910}]},"mark":{"type":"rect","color":"white"},"encoding":{"x2":{"field":"x2"},"y2":{"field":"b"}}},
{"data":{"values":[{"t":"(b)","x":2453,"y":969}]},"mark":{"type":"text","font":"Liberation Serif","fontWeight":"bold","fontSize":80,"align":"center","baseline":"alphabetic","color":"#000000"},"encoding":{"text":{"field":"t"}}}
]},
{"encoding":{"y":{"field":"v","type":"quantitative","axis":null,"scale":{"domain":[0,0.0284],"range":[839,121],"nice":false,"zero":false}}},
"layer":[
{"data":{"values":[{"lo":0,"hi":0.0284}]},"mark":{"type":"rect","color":{"gradient":"linear","x1":0,"y1":1,"x2":0,"y2":0,"stops":[{"offset":0,"color":"#0000ff"},{"offset":0.285,"color":"#00ffff"},{"offset":0.5,"color":"#00ff00"},{"offset":0.7,"color":"#ffff00"},{"offset":1,"color":"#ff0000"}]}},"encoding":{"x":{"value":77},"x2":{"value":134},"y":{"field":"lo","type":"quantitative","axis":null,"scale":{"domain":[0,0.0284],"range":[839,121],"nice":false,"zero":false}},"y2":{"field":"hi"}}},
{"data":{"name":"b_ticks"},"mark":{"type":"rule","color":"#cccccc","strokeWidth":2},"encoding":{"x":{"value":134},"x2":{"value":141}}},
{"data":{"name":"b_ticks"},"mark":{"type":"text","font":"Liberation Sans","fontSize":32,"align":"left","baseline":"middle","color":"#222222"},"encoding":{"x":{"value":163},"text":{"field":"label"}}}
]}
]}
]
}
